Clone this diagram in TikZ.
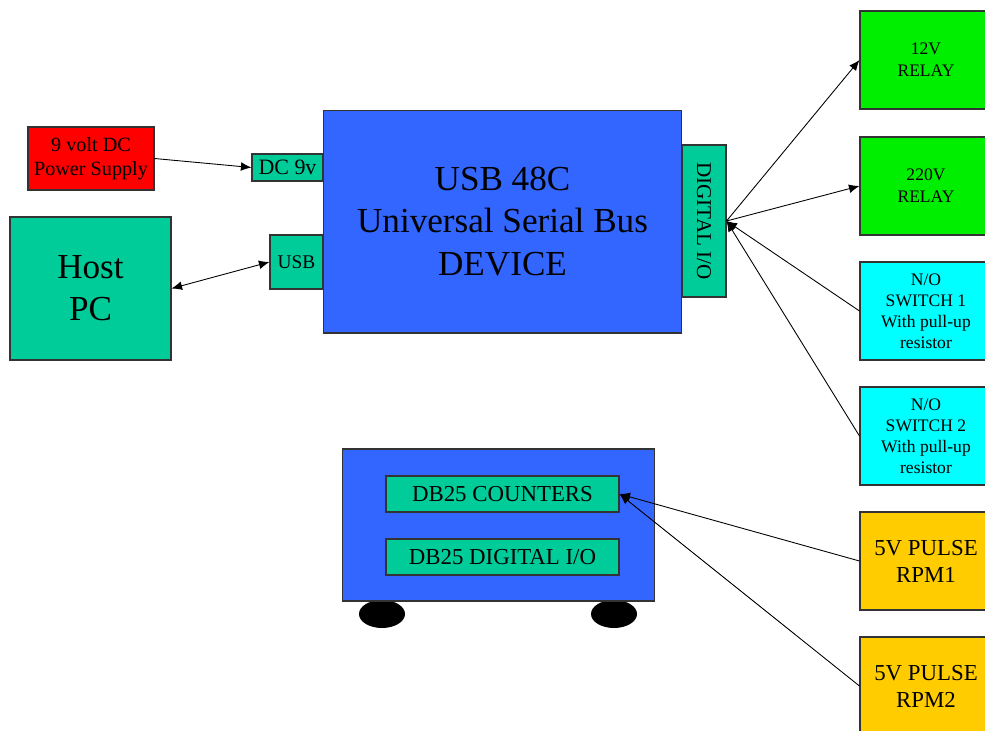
\documentclass[tikz,border=0pt]{standalone}
\usepackage{fontspec}
\setmainfont{Liberation Serif}
\usepackage{xcolor}
\usepackage{tikz}
\usetikzlibrary{arrows.meta}

\definecolor{devblue}{RGB}{51,102,255}
\definecolor{portgreen}{RGB}{0,204,153}
\definecolor{psured}{RGB}{255,0,0}
\definecolor{relaygreen}{RGB}{0,238,0}
\definecolor{switchcyan}{RGB}{0,255,255}
\definecolor{pulseorange}{RGB}{255,204,0}

\begin{document}
\begin{tikzpicture}[x=0.02cm,y=-0.02cm]
\tikzstyle{blk} = [draw=black!80, line width=0.6pt, inner sep=0pt, align=center]
\tikzstyle{port} = [blk, fill=portgreen]
\tikzstyle{side} = [blk, minimum width=2.64cm, minimum height=1.96cm]
\tikzstyle{link} = [black, line width=0.5pt, -{Latex[length=6pt,width=5pt]}]
%
	\clip (0,0) rectangle (985,731);

	% supply and host side
	\node[blk, fill=psured, minimum width=2.52cm, minimum height=1.26cm,
		font=\fontsize{11.5}{14}\selectfont] (psu) at (91,158.5) {9 volt DC\\Power Supply};
	\node[port, minimum width=3.22cm, minimum height=2.86cm,
		font=\fontsize{20}{24}\selectfont] (host) at (90.5,288.5) {Host\\PC};

	% the USB device
	\node[blk, fill=devblue, minimum width=7.18cm, minimum height=4.46cm,
		font=\fontsize{20}{24}\selectfont] (dev) at (502.5,221.5) {USB 48C\\Universal Serial Bus\\DEVICE};
	\node[port, minimum width=1.42cm, minimum height=0.54cm,
		font=\fontsize{12.5}{14}\selectfont] (dc) at (287.5,167.5) {DC 9v};
	\node[port, minimum width=1.06cm, minimum height=1.08cm,
		font=\fontsize{11}{13}\selectfont] (usb) at (296.5,262) {USB};
	\node[port, minimum width=0.88cm, minimum height=3.04cm] (dio) at (704,221) {};
	\node[rotate=-90, font=\fontsize{12}{14}\selectfont] at (dio.center) {DIGITAL I/O};

	% outputs and inputs on the right
	\node[side, fill=relaygreen, font=\fontsize{10}{12.5}\selectfont] (relay12) at (926,60) {12V\\RELAY};
	\node[side, fill=relaygreen, font=\fontsize{10}{12.5}\selectfont] (relay220) at (926,186) {220V\\RELAY};
	\node[side, fill=switchcyan, font=\fontsize{10}{12}\selectfont] (sw1) at (926,311) {N/O\\SWITCH 1\\With pull-up\\resistor};
	\node[side, fill=switchcyan, font=\fontsize{10}{12}\selectfont] (sw2) at (926,436) {N/O\\SWITCH 2\\With pull-up\\resistor};
	\node[side, fill=pulseorange, font=\fontsize{13}{15.3}\selectfont] (rpm1) at (926,561) {5V PULSE\\RPM1};
	\node[side, fill=pulseorange, font=\fontsize{13}{15.3}\selectfont] (rpm2) at (926,686) {5V PULSE\\RPM2};

	% counter unit on wheels
	\fill[black] (382,614) ellipse [x radius=23, y radius=14];
	\fill[black] (614,614) ellipse [x radius=23, y radius=14];
	\node[blk, fill=devblue, minimum width=6.26cm, minimum height=3.04cm] (unit) at (498.5,525) {};
	\node[port, minimum width=4.66cm, minimum height=0.72cm,
		font=\fontsize{13}{15}\selectfont] (cnt) at (502.5,494) {DB25 COUNTERS};
	\node[port, minimum width=4.66cm, minimum height=0.72cm,
		font=\fontsize{13}{15}\selectfont] (dbio) at (502.5,557) {DB25 DIGITAL I/O};

	% connections
	\draw[link] (psu.east) -- (dc.west);
	\draw[link, {Latex[length=6pt,width=5pt]}-{Latex[length=6pt,width=5pt]}] (host.east) -- (usb.west);
	\draw[link] (dio.east) -- (relay12.west);
	\draw[link] (dio.east) -- (relay220.west);
	\draw[link] (sw1.west) -- (dio.east);
	\draw[link] (sw2.west) -- (dio.east);
	\draw[link] (rpm1.west) -- (cnt.east);
	\draw[link] (rpm2.west) -- (cnt.east);
\end{tikzpicture}
\end{document}
